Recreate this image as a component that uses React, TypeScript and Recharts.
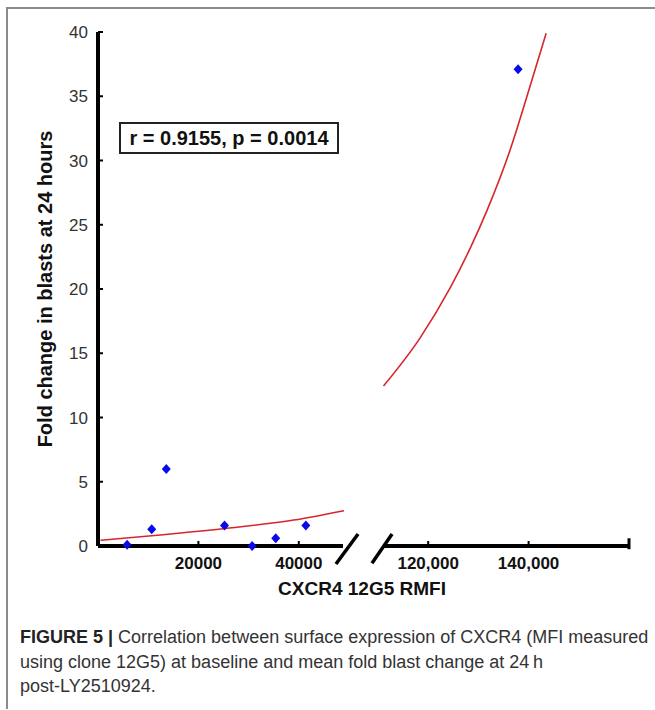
import React from 'react';
import { ComposedChart, Scatter, Line, XAxis, YAxis, ReferenceLine } from 'recharts';

// measured samples: baseline CXCR4 12G5 RMFI vs fold change in blasts
const rmfi = [5800, 10700, 13600, 25200, 30700, 35400, 41400, 137900];
const foldChange = [0.1, 1.3, 6.0, 1.6, 0.0, 0.6, 1.6, 37.1];

// fitted curve as drawn (left and right pieces of the broken axis)
const fitLowX = [500, 12400, 25700, 39000, 49000];
const fitLowY = [0.45, 0.86, 1.38, 2.02, 2.75];
const fitHighX = [111100, 118400, 124400, 128400, 131700, 136300, 140000, 143500];
const fitHighY = [12.45, 16.2, 20.1, 23.2, 26.1, 30.8, 35.4, 39.9];

const yTicks = [0, 5, 10, 15, 20, 25, 30, 35, 40];
const xTicks = [20000, 40000, 120000, 140000];

// broken x axis: 0..LOW_END then HIGH_START..HIGH_END
const LOW_END = 48800;
const HIGH_START = 111000;
const HIGH_END = 160000;
const SHIFT = 54230;

const FONT = '"Liberation Sans", Arial, Helvetica, sans-serif';
const RED = '#d7262b';
const BLUE = '#0a0ae8';

const toAxis = (v: number) => (v > 80000 ? v - SHIFT : v);
const fromAxis = (d: number) => (d > 52000 ? d + SHIFT : d);

const points = rmfi.map((x, i) => ({ x: toAxis(x), y: foldChange[i] }));
const fitLow = fitLowX.map((x, i) => ({ x: toAxis(x), y: fitLowY[i] }));
const fitHigh = fitHighX.map((x, i) => ({ x: toAxis(x), y: fitHighY[i] }));

function Diamond(props: any) {
  const { cx, cy } = props;
  return (
    <polygon
      points={`${cx},${cy - 5} ${cx + 4.5},${cy} ${cx},${cy + 5} ${cx - 4.5},${cy}`}
      fill={BLUE}
    />
  );
}

function YTick(props: any) {
  const { x, y, payload } = props;
  return (
    <g>
      <line x1={x + 10} x2={x + 15} y1={y} y2={y} stroke="#000" strokeWidth={2} />
      <text x={x} y={y + 6} textAnchor="end" fontSize={17} fill="#333" fontFamily={FONT}>
        {payload.value}
      </text>
    </g>
  );
}

function XTick(props: any) {
  const { x, y, payload } = props;
  const real = fromAxis(payload.value);
  const label = real >= 100000 ? real.toLocaleString('en-US') : String(real);
  return (
    <g>
      <line x1={x} x2={x} y1={y - 5} y2={y} stroke="#000" strokeWidth={2} />
      <text x={x} y={y + 23} textAnchor="middle" fontSize={17} fontWeight="bold" fill="#111" fontFamily={FONT}>
        {label}
      </text>
    </g>
  );
}

export default function App() {
  const axisStroke = { stroke: '#000', strokeWidth: 4 };
  return (
    <div style={{ position: 'absolute', left: 0, top: 0, width: 655, height: 710, background: '#fff', fontFamily: FONT }}>
      <div
        style={{
          position: 'absolute', left: 6, top: 7, width: 649, height: 700,
          borderTop: '2px solid #8c8c8c', borderLeft: '2px solid #8c8c8c',
        }}
      />
      <div style={{ position: 'absolute', left: 0, top: 0 }}>
        <ComposedChart width={655} height={600} margin={{ top: 32, right: 26, bottom: 24, left: 38 }}>
          <XAxis
            type="number"
            dataKey="x"
            domain={[0, HIGH_END - SHIFT]}
            ticks={xTicks.map(toAxis)}
            axisLine={false}
            tickLine={false}
            tickSize={0}
            tickMargin={0}
            height={30}
            tick={<XTick />}
            interval={0}
          />
          <YAxis
            type="number"
            dataKey="y"
            domain={[0, 40]}
            ticks={yTicks}
            width={60}
            axisLine={axisStroke}
            tickLine={false}
            tickSize={0}
            tickMargin={10}
            tick={<YTick />}
            interval={0}
          />
          <ReferenceLine segment={[{ x: 0, y: 0 }, { x: LOW_END, y: 0 }]} {...axisStroke} ifOverflow="visible" />
          <ReferenceLine
            segment={[{ x: toAxis(HIGH_START), y: 0 }, { x: toAxis(HIGH_END), y: 0 }]}
            {...axisStroke}
            ifOverflow="visible"
          />
          <ReferenceLine
            segment={[{ x: toAxis(HIGH_END), y: -0.25 }, { x: toAxis(HIGH_END), y: 0.6 }]}
            stroke="#000"
            strokeWidth={3}
            ifOverflow="visible"
          />
          <ReferenceLine
            segment={[{ x: LOW_END - 1400, y: -1.4 }, { x: LOW_END + 3000, y: 0.93 }]}
            stroke="#000"
            strokeWidth={3.5}
            ifOverflow="visible"
          />
          <ReferenceLine
            segment={[{ x: toAxis(HIGH_START) - 2200, y: -1.35 }, { x: toAxis(HIGH_START) + 1800, y: 0.93 }]}
            stroke="#000"
            strokeWidth={3.5}
            ifOverflow="visible"
          />
          <Line data={fitLow} dataKey="y" type="monotone" stroke={RED} strokeWidth={1.6} dot={false} isAnimationActive={false} />
          <Line data={fitHigh} dataKey="y" type="monotone" stroke={RED} strokeWidth={1.6} dot={false} isAnimationActive={false} />
          <Scatter data={points} dataKey="y" shape={<Diamond />} isAnimationActive={false} />
        </ComposedChart>
      </div>
      <svg width={100} height={600} style={{ position: 'absolute', left: 0, top: 0 }}>
        <text
          x={52}
          y={289}
          transform="rotate(-90 52 289)"
          textAnchor="middle"
          fontSize={20}
          fontWeight="bold"
          fill="#111"
          fontFamily={FONT}
        >
          Fold change in blasts at 24 hours
        </text>
      </svg>
      <div
        style={{
          position: 'absolute', left: 0, top: 577, width: 724, textAlign: 'center',
          fontSize: 19, fontWeight: 'bold', color: '#111', lineHeight: '24px',
        }}
      >
        CXCR4 12G5 RMFI
      </div>
      <div
        style={{
          position: 'absolute', left: 119, top: 122, width: 216, height: 28,
          border: '2px solid #222', fontSize: 20, fontWeight: 'bold', color: '#111',
          display: 'flex', alignItems: 'center', justifyContent: 'center', whiteSpace: 'nowrap',
        }}
      >
        r = 0.9155, p = 0.0014
      </div>
      <div
        style={{
          position: 'absolute', left: 20, top: 625, fontSize: 18, lineHeight: '24.5px',
          color: '#333', whiteSpace: 'nowrap',
        }}
      >
        <b style={{ color: '#222' }}>FIGURE 5 |</b> Correlation between surface expression of CXCR4 (MFI measured
        <br />
        using clone 12G5) at baseline and mean fold blast change at 24&#8201;h
        <br />
        post-LY2510924.
      </div>
    </div>
  );
}
